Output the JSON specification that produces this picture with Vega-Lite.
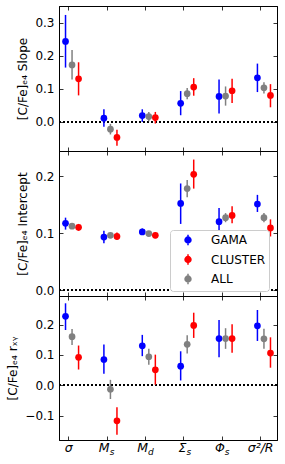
{
  "$schema": "https://vega.github.io/schema/vega-lite/v6.json",
  "background": "white",
  "padding": {"left": 6, "top": 5, "right": 8, "bottom": 5},
  "bounds": "flush",
  "datasets": {
    "slope": [
      {"v": "sigma", "s": "GAMA", "y": 0.243, "lo": 0.164, "hi": 0.323},
      {"v": "Ms", "s": "GAMA", "y": 0.011, "lo": -0.015, "hi": 0.038},
      {"v": "Md", "s": "GAMA", "y": 0.019, "lo": 0.0, "hi": 0.038},
      {"v": "Sigma", "s": "GAMA", "y": 0.056, "lo": 0.02, "hi": 0.093},
      {"v": "Phi", "s": "GAMA", "y": 0.077, "lo": 0.025, "hi": 0.128},
      {"v": "s2R", "s": "GAMA", "y": 0.133, "lo": 0.09, "hi": 0.176},
      {"v": "sigma", "s": "CLUSTER", "y": 0.13, "lo": 0.08, "hi": 0.18},
      {"v": "Ms", "s": "CLUSTER", "y": -0.047, "lo": -0.072, "hi": -0.024},
      {"v": "Md", "s": "CLUSTER", "y": 0.013, "lo": -0.005, "hi": 0.03},
      {"v": "Sigma", "s": "CLUSTER", "y": 0.105, "lo": 0.079, "hi": 0.132},
      {"v": "Phi", "s": "CLUSTER", "y": 0.094, "lo": 0.057, "hi": 0.13},
      {"v": "s2R", "s": "CLUSTER", "y": 0.08, "lo": 0.044, "hi": 0.114},
      {"v": "sigma", "s": "ALL", "y": 0.172, "lo": 0.128, "hi": 0.217},
      {"v": "Ms", "s": "ALL", "y": -0.022, "lo": -0.038, "hi": -0.006},
      {"v": "Md", "s": "ALL", "y": 0.016, "lo": 0.002, "hi": 0.03},
      {"v": "Sigma", "s": "ALL", "y": 0.085, "lo": 0.068, "hi": 0.102},
      {"v": "Phi", "s": "ALL", "y": 0.078, "lo": 0.049, "hi": 0.107},
      {"v": "s2R", "s": "ALL", "y": 0.103, "lo": 0.086, "hi": 0.12}
    ],
    "intercept": [
      {"v": "sigma", "s": "GAMA", "y": 0.117, "lo": 0.106, "hi": 0.127},
      {"v": "Ms", "s": "GAMA", "y": 0.093, "lo": 0.082, "hi": 0.104},
      {"v": "Md", "s": "GAMA", "y": 0.102, "lo": 0.097, "hi": 0.108},
      {"v": "Sigma", "s": "GAMA", "y": 0.152, "lo": 0.116, "hi": 0.187},
      {"v": "Phi", "s": "GAMA", "y": 0.12, "lo": 0.098, "hi": 0.144},
      {"v": "s2R", "s": "GAMA", "y": 0.151, "lo": 0.137, "hi": 0.167},
      {"v": "sigma", "s": "CLUSTER", "y": 0.11, "lo": 0.104, "hi": 0.116},
      {"v": "Ms", "s": "CLUSTER", "y": 0.094, "lo": 0.088, "hi": 0.101},
      {"v": "Md", "s": "CLUSTER", "y": 0.096, "lo": 0.091, "hi": 0.101},
      {"v": "Sigma", "s": "CLUSTER", "y": 0.203, "lo": 0.178, "hi": 0.229},
      {"v": "Phi", "s": "CLUSTER", "y": 0.131, "lo": 0.117, "hi": 0.147},
      {"v": "s2R", "s": "CLUSTER", "y": 0.109, "lo": 0.094, "hi": 0.124},
      {"v": "sigma", "s": "ALL", "y": 0.112, "lo": 0.107, "hi": 0.117},
      {"v": "Ms", "s": "ALL", "y": 0.096, "lo": 0.092, "hi": 0.1},
      {"v": "Md", "s": "ALL", "y": 0.099, "lo": 0.095, "hi": 0.103},
      {"v": "Sigma", "s": "ALL", "y": 0.178, "lo": 0.163, "hi": 0.193},
      {"v": "Phi", "s": "ALL", "y": 0.127, "lo": 0.119, "hi": 0.135},
      {"v": "s2R", "s": "ALL", "y": 0.127, "lo": 0.119, "hi": 0.135}
    ],
    "rxy": [
      {"v": "sigma", "s": "GAMA", "y": 0.227, "lo": 0.182, "hi": 0.27},
      {"v": "Ms", "s": "GAMA", "y": 0.085, "lo": 0.038, "hi": 0.134},
      {"v": "Md", "s": "GAMA", "y": 0.13, "lo": 0.096, "hi": 0.166},
      {"v": "Sigma", "s": "GAMA", "y": 0.063, "lo": 0.016, "hi": 0.112},
      {"v": "Phi", "s": "GAMA", "y": 0.154, "lo": 0.092, "hi": 0.215},
      {"v": "s2R", "s": "GAMA", "y": 0.196, "lo": 0.146, "hi": 0.248},
      {"v": "sigma", "s": "CLUSTER", "y": 0.092, "lo": 0.052, "hi": 0.131},
      {"v": "Ms", "s": "CLUSTER", "y": -0.117, "lo": -0.163, "hi": -0.072},
      {"v": "Md", "s": "CLUSTER", "y": 0.051, "lo": 0.002, "hi": 0.101},
      {"v": "Sigma", "s": "CLUSTER", "y": 0.197, "lo": 0.156, "hi": 0.239},
      {"v": "Phi", "s": "CLUSTER", "y": 0.154, "lo": 0.107, "hi": 0.201},
      {"v": "s2R", "s": "CLUSTER", "y": 0.106, "lo": 0.058, "hi": 0.158},
      {"v": "sigma", "s": "ALL", "y": 0.16, "lo": 0.133, "hi": 0.185},
      {"v": "Ms", "s": "ALL", "y": -0.013, "lo": -0.045, "hi": 0.018},
      {"v": "Md", "s": "ALL", "y": 0.094, "lo": 0.068, "hi": 0.12},
      {"v": "Sigma", "s": "ALL", "y": 0.135, "lo": 0.105, "hi": 0.165},
      {"v": "Phi", "s": "ALL", "y": 0.154, "lo": 0.12, "hi": 0.188},
      {"v": "s2R", "s": "ALL", "y": 0.153, "lo": 0.12, "hi": 0.186}
    ],
    "lab": [
      {"v": "sigma", "main": "σ", "sub": ""},
      {"v": "Ms", "main": "M", "sub": "s"},
      {"v": "Md", "main": "M", "sub": "d"},
      {"v": "Sigma", "main": "Σ", "sub": "s"},
      {"v": "Phi", "main": "Φ", "sub": "s"},
      {"v": "s2R", "main": "σ²/R", "sub": ""}
    ]
  },
  "config": {
    "font": "DejaVu Sans",
    "view": {"stroke": "black", "strokeWidth": 1},
    "concat": {"spacing": 0},
    "axis": {
      "grid": false, "domainColor": "black", "domainWidth": 1,
      "tickColor": "black", "tickWidth": 0.8, "tickSize": -4,
      "labelColor": "black", "labelFont": "DejaVu Sans", "labelFontSize": 12, "labelPadding": 9,
      "titleFont": "DejaVu Sans", "titleFontSize": 12, "titleFontWeight": "normal", "titleColor": "black", "titlePadding": 5
    },
    "axisX": {"minExtent": 0, "maxExtent": 0},
    "axisRight": {"minExtent": 0, "maxExtent": 0},
    "legend": {"labelColor": "black", "labelFont": "DejaVu Sans"}
  },
  "resolve": {"scale": {"stroke": "independent"}, "legend": {"stroke": "independent"}},
  "vconcat": [
    {
      "width": 218, "height": 145,
      "data": {"name": "slope"},
      "layer": [
        {"mark": {"type": "rule", "strokeDash": [2, 2], "color": "black", "strokeWidth": 1.2},
         "encoding": {"y": {"datum": 0, "type": "quantitative", "scale": {"domain": [-0.088, 0.35], "nice": false, "zero": false}, "axis": null}}},
        {"mark": {"type": "rule", "strokeWidth": 1.5},
         "encoding": {
           "x": {"field": "v", "type": "nominal", "scale": {"type": "band", "domain": ["sigma", "Ms", "Md", "Sigma", "Phi", "s2R"], "paddingInner": 0.32, "paddingOuter": 0}, "axis": {"orient": "top", "labels": false, "title": null, "bandPosition": 0.3736}},
           "xOffset": {"field": "s", "type": "nominal", "scale": {"type": "point", "domain": ["GAMA", "ALL", "CLUSTER"], "padding": 2.95}},
           "y": {"field": "lo", "type": "quantitative", "scale": {"domain": [-0.088, 0.35], "nice": false, "zero": false}, "axis": {"orient": "right", "labels": false, "title": null, "values": [0, 0.1, 0.2, 0.3]}},
           "y2": {"field": "hi"},
           "stroke": {"field": "s", "type": "nominal", "scale": {"domain": ["GAMA", "CLUSTER", "ALL"], "range": ["#0000ff", "#ff0000", "#808080"]}, "legend": null}
         }},
        {"mark": {"type": "point", "filled": true, "size": 45, "opacity": 1},
         "encoding": {
           "x": {"field": "v", "type": "nominal", "scale": {"type": "band", "domain": ["sigma", "Ms", "Md", "Sigma", "Phi", "s2R"], "paddingInner": 0.32, "paddingOuter": 0}, "axis": {"orient": "bottom", "labels": false, "title": null, "bandPosition": 0.3736}},
           "xOffset": {"field": "s", "type": "nominal", "scale": {"type": "point", "domain": ["GAMA", "ALL", "CLUSTER"], "padding": 2.95}},
           "y": {"field": "y", "type": "quantitative", "scale": {"domain": [-0.088, 0.35], "nice": false, "zero": false}, "axis": {"orient": "left", "values": [0, 0.1, 0.2, 0.3], "format": ".1f", "title": "[C/Fe]ₑ₄ Slope"}},
           "color": {"field": "s", "type": "nominal", "scale": {"domain": ["GAMA", "CLUSTER", "ALL"], "range": ["#0000ff", "#ff0000", "#808080"]}, "legend": null}
         }}
      ],
      "resolve": {"axis": {"x": "independent", "y": "independent"}}
    },
    {
      "width": 218, "height": 145,
      "data": {"name": "intercept"},
      "layer": [
        {"mark": {"type": "rule", "strokeDash": [2, 2], "color": "black", "strokeWidth": 1.2},
         "encoding": {"y": {"datum": 0, "type": "quantitative", "scale": {"domain": [-0.0105, 0.244], "nice": false, "zero": false}, "axis": null}}},
        {"mark": {"type": "rule", "strokeWidth": 1.5},
         "encoding": {
           "x": {"field": "v", "type": "nominal", "scale": {"type": "band", "domain": ["sigma", "Ms", "Md", "Sigma", "Phi", "s2R"], "paddingInner": 0.32, "paddingOuter": 0}, "axis": {"orient": "top", "labels": false, "title": null, "bandPosition": 0.3736}},
           "xOffset": {"field": "s", "type": "nominal", "scale": {"type": "point", "domain": ["GAMA", "ALL", "CLUSTER"], "padding": 2.95}},
           "y": {"field": "lo", "type": "quantitative", "scale": {"domain": [-0.0105, 0.244], "nice": false, "zero": false}, "axis": {"orient": "right", "labels": false, "title": null, "values": [0, 0.1, 0.2]}},
           "y2": {"field": "hi"},
           "stroke": {"field": "s", "type": "nominal", "scale": {"domain": ["GAMA", "CLUSTER", "ALL"], "range": ["#0000ff", "#ff0000", "#808080"]},
             "legend": {"orient": "none", "legendX": 111, "legendY": 79, "title": null, "fillColor": "white", "strokeColor": "#cccccc", "cornerRadius": 3, "padding": 3, "symbolType": "M0,-0.9L0,0.9M-0.5,0A0.5,0.5,0,1,0,0.5,0A0.5,0.5,0,1,0,-0.5,0M-0.3,0A0.3,0.3,0,1,0,0.3,0A0.3,0.3,0,1,0,-0.3,0M-0.1,0A0.1,0.1,0,1,0,0.1,0A0.1,0.1,0,1,0,-0.1,0", "symbolSize": 140, "symbolOffset": 8, "labelOffset": 16, "labelFontSize": 12, "rowPadding": 1.5, "symbolStrokeWidth": 1.5}}
         }},
        {"mark": {"type": "point", "filled": true, "size": 45, "opacity": 1},
         "encoding": {
           "x": {"field": "v", "type": "nominal", "scale": {"type": "band", "domain": ["sigma", "Ms", "Md", "Sigma", "Phi", "s2R"], "paddingInner": 0.32, "paddingOuter": 0}, "axis": {"orient": "bottom", "labels": false, "title": null, "bandPosition": 0.3736}},
           "xOffset": {"field": "s", "type": "nominal", "scale": {"type": "point", "domain": ["GAMA", "ALL", "CLUSTER"], "padding": 2.95}},
           "y": {"field": "y", "type": "quantitative", "scale": {"domain": [-0.0105, 0.244], "nice": false, "zero": false}, "axis": {"orient": "left", "values": [0, 0.1, 0.2], "format": ".1f", "title": "[C/Fe]ₑ₄ Intercept"}},
           "color": {"field": "s", "type": "nominal", "scale": {"domain": ["GAMA", "CLUSTER", "ALL"], "range": ["#0000ff", "#ff0000", "#808080"]}, "legend": null}
         }}
      ],
      "resolve": {"axis": {"x": "independent", "y": "independent"}}
    },
    {
      "width": 218, "height": 144,
      "data": {"name": "rxy"},
      "layer": [
        {"mark": {"type": "rule", "strokeDash": [2, 2], "color": "black", "strokeWidth": 1.2},
         "encoding": {"y": {"datum": 0, "type": "quantitative", "scale": {"domain": [-0.18, 0.294], "nice": false, "zero": false}, "axis": null}}},
        {"mark": {"type": "rule", "strokeWidth": 1.5},
         "encoding": {
           "x": {"field": "v", "type": "nominal", "scale": {"type": "band", "domain": ["sigma", "Ms", "Md", "Sigma", "Phi", "s2R"], "paddingInner": 0.32, "paddingOuter": 0}, "axis": {"orient": "top", "labels": false, "title": null, "bandPosition": 0.3736}},
           "xOffset": {"field": "s", "type": "nominal", "scale": {"type": "point", "domain": ["GAMA", "ALL", "CLUSTER"], "padding": 2.95}},
           "y": {"field": "lo", "type": "quantitative", "scale": {"domain": [-0.18, 0.294], "nice": false, "zero": false}, "axis": {"orient": "right", "labels": false, "title": null, "values": [-0.1, 0, 0.1, 0.2]}},
           "y2": {"field": "hi"},
           "stroke": {"field": "s", "type": "nominal", "scale": {"domain": ["GAMA", "CLUSTER", "ALL"], "range": ["#0000ff", "#ff0000", "#808080"]}, "legend": null}
         }},
        {"mark": {"type": "point", "filled": true, "size": 45, "opacity": 1},
         "encoding": {
           "x": {"field": "v", "type": "nominal", "scale": {"type": "band", "domain": ["sigma", "Ms", "Md", "Sigma", "Phi", "s2R"], "paddingInner": 0.32, "paddingOuter": 0}, "axis": {"orient": "bottom", "labels": false, "title": null, "bandPosition": 0.3736}},
           "xOffset": {"field": "s", "type": "nominal", "scale": {"type": "point", "domain": ["GAMA", "ALL", "CLUSTER"], "padding": 2.95}},
           "y": {"field": "y", "type": "quantitative", "scale": {"domain": [-0.18, 0.294], "nice": false, "zero": false}, "axis": {"orient": "left", "values": [-0.1, 0, 0.1, 0.2], "format": ".1f", "title": "[C/Fe]ₑ₄ rₓᵧ"}},
           "color": {"field": "s", "type": "nominal", "scale": {"domain": ["GAMA", "CLUSTER", "ALL"], "range": ["#0000ff", "#ff0000", "#808080"]}, "legend": null}
         }},
        {"data": {"name": "lab"},
         "transform": [{"filter": "datum.sub === ''"}],
         "mark": {"type": "text", "fontStyle": "italic", "fontSize": 12.5, "align": "center", "baseline": "alphabetic", "dy": 12, "color": "black"},
         "encoding": {
           "x": {"field": "v", "type": "nominal", "bandPosition": 0.3736, "scale": {"type": "band", "domain": ["sigma", "Ms", "Md", "Sigma", "Phi", "s2R"], "paddingInner": 0.32, "paddingOuter": 0}, "axis": null},
           "y": {"datum": -0.18, "type": "quantitative", "scale": {"domain": [-0.18, 0.294], "nice": false, "zero": false}, "axis": null},
           "text": {"field": "main"}
         }},
        {"data": {"name": "lab"},
         "transform": [{"filter": "datum.sub !== ''"}],
         "mark": {"type": "text", "fontStyle": "italic", "fontSize": 12.5, "align": "right", "baseline": "alphabetic", "dx": 2.5, "dy": 12, "color": "black"},
         "encoding": {
           "x": {"field": "v", "type": "nominal", "bandPosition": 0.3736, "scale": {"type": "band", "domain": ["sigma", "Ms", "Md", "Sigma", "Phi", "s2R"], "paddingInner": 0.32, "paddingOuter": 0}, "axis": null},
           "y": {"datum": -0.18, "type": "quantitative", "scale": {"domain": [-0.18, 0.294], "nice": false, "zero": false}, "axis": null},
           "text": {"field": "main"}
         }},
        {"data": {"name": "lab"},
         "transform": [{"filter": "datum.sub !== ''"}],
         "mark": {"type": "text", "fontStyle": "italic", "fontSize": 9, "align": "left", "baseline": "alphabetic", "dx": 2.5, "dy": 14.5, "color": "black"},
         "encoding": {
           "x": {"field": "v", "type": "nominal", "bandPosition": 0.3736, "scale": {"type": "band", "domain": ["sigma", "Ms", "Md", "Sigma", "Phi", "s2R"], "paddingInner": 0.32, "paddingOuter": 0}, "axis": null},
           "y": {"datum": -0.18, "type": "quantitative", "scale": {"domain": [-0.18, 0.294], "nice": false, "zero": false}, "axis": null},
           "text": {"field": "sub"}
         }}
      ],
      "resolve": {"axis": {"x": "independent", "y": "independent"}}
    }
  ]
}
